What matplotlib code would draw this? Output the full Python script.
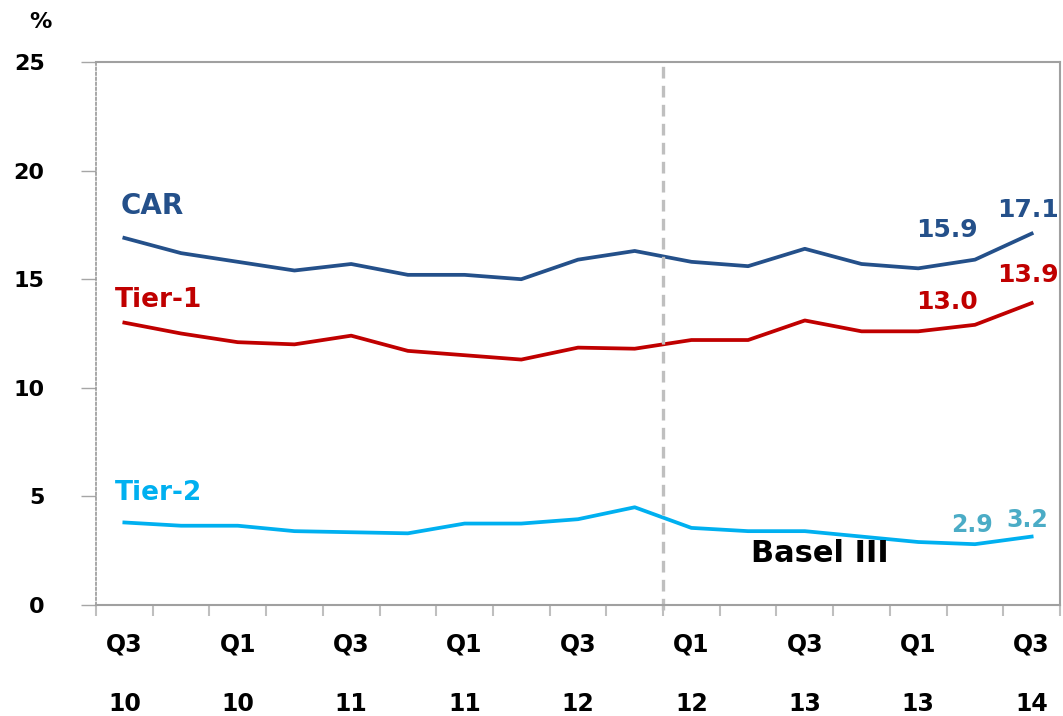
import matplotlib
matplotlib.use("Agg")
import matplotlib.pyplot as plt
import numpy as np

plt.rcParams['font.family'] = ['DejaVu Sans']
plt.rcParams['font.weight'] = 'bold'

quarters = ["Q3", "Q4", "Q1", "Q2", "Q3", "Q4", "Q1", "Q2", "Q3", "Q4",
            "Q1", "Q2", "Q3", "Q4", "Q1", "Q2", "Q3"]
tick_labels = ["Q3\n10", "Q1\n10", "Q3\n11", "Q1\n11", "Q3\n12",
               "Q1\n12", "Q3\n13", "Q1\n13", "Q3\n14"]
car = [16.9, 16.2, 15.8, 15.4, 15.7, 15.2, 15.2, 15.0, 15.9, 16.3,
       15.8, 15.6, 16.4, 15.7, 15.5, 15.9, 17.1]
tier1 = [13.0, 12.5, 12.1, 12.0, 12.4, 11.7, 11.5, 11.3, 11.85, 11.8,
         12.2, 12.2, 13.1, 12.6, 12.6, 12.9, 13.9]
tier2 = [3.8, 3.65, 3.65, 3.4, 3.35, 3.3, 3.75, 3.75, 3.95, 4.5,
         3.55, 3.4, 3.4, 3.15, 2.9, 2.8, 3.15]
car_labels = ["15.9", "17.1"]
tier1_labels = ["13.0", "13.9"]
tier2_labels = ["2.9", "3.2"]

c_car = "#24508A"
c_t1 = "#C00000"
c_t2 = "#00B0F0"
c_t2lab = "#4BACC6"

fig = plt.figure(figsize=(10.63, 7.16), dpi=100)
ax = fig.add_axes([96/1063, 1-605/716, (1060-96)/1063, (605-62)/716])

x = np.arange(len(car))
ax.plot(x, car, color=c_car, lw=2.7)
ax.plot(x, tier1, color=c_t1, lw=2.7)
ax.plot(x, tier2, color=c_t2, lw=2.7)

ax.axvline(9.5, color="#BFBFBF", lw=2.4, ls=(0, (3.5, 2.2)), ymin=-0.01, clip_on=False)

ax.set_xlim(-0.5, 16.5)
ax.set_ylim(0, 25)
ax.set_yticks([0, 5, 10, 15, 20, 25])
ax.set_xticks(np.arange(0, 17, 2))
ax.set_xticklabels(tick_labels, linespacing=2.85)
ax.set_xticks(np.arange(-0.5, 17, 1), minor=True)
ax.tick_params(axis='x', which='major', length=0, pad=20, labelsize=17)
ax.tick_params(axis='x', which='minor', length=8, width=1.5, color="#BFBFBF")
ax.tick_params(axis='y', which='major', length=11, width=1.0, color="#A6A6A6",
               labelsize=16, pad=26)

for s in ['top', 'right', 'bottom']:
    ax.spines[s].set_color("#A0A0A0")
    ax.spines[s].set_linewidth(1.5)
ax.spines['left'].set_color("#9A9A9A")
ax.spines['left'].set_linewidth(1.2)
ax.spines['left'].set_linestyle((0, (1.5, 1.5)))

ax.text(-0.06, 18.35, "CAR", color=c_car, fontsize=20, fontweight='bold', va='center', ha='left')
ax.text(-0.16, 14.05, "Tier-1", color=c_t1, fontsize=19, fontweight='bold', va='center', ha='left')
ax.text(-0.17, 5.15, "Tier-2", color=c_t2, fontsize=19, fontweight='bold', va='center', ha='left')
ax.text(11.05, 2.35, "Basel III", color="black", fontsize=22, fontweight='bold', va='center', ha='left')

lab_pos = {"car": [(14.5, 17.27), (15.94, 18.2)],
           "t1": [(14.5, 13.95), (15.94, 15.2)],
           "t2": [(14.95, 3.68), (15.92, 3.9)]}
for txt, (px, py) in zip(car_labels, lab_pos["car"]):
    ax.text(px, py, txt, color=c_car, fontsize=18, fontweight='bold', ha='center', va='center')
for txt, (px, py) in zip(tier1_labels, lab_pos["t1"]):
    ax.text(px, py, txt, color=c_t1, fontsize=18, fontweight='bold', ha='center', va='center')
for txt, (px, py) in zip(tier2_labels, lab_pos["t2"]):
    ax.text(px, py, txt, color=c_t2lab, fontsize=17, fontweight='bold', ha='center', va='center')

fig.text(40/1063, 1-22/716, "%", fontsize=16, fontweight='bold', ha='center', va='center')

fig.savefig("out.png", dpi=100)
